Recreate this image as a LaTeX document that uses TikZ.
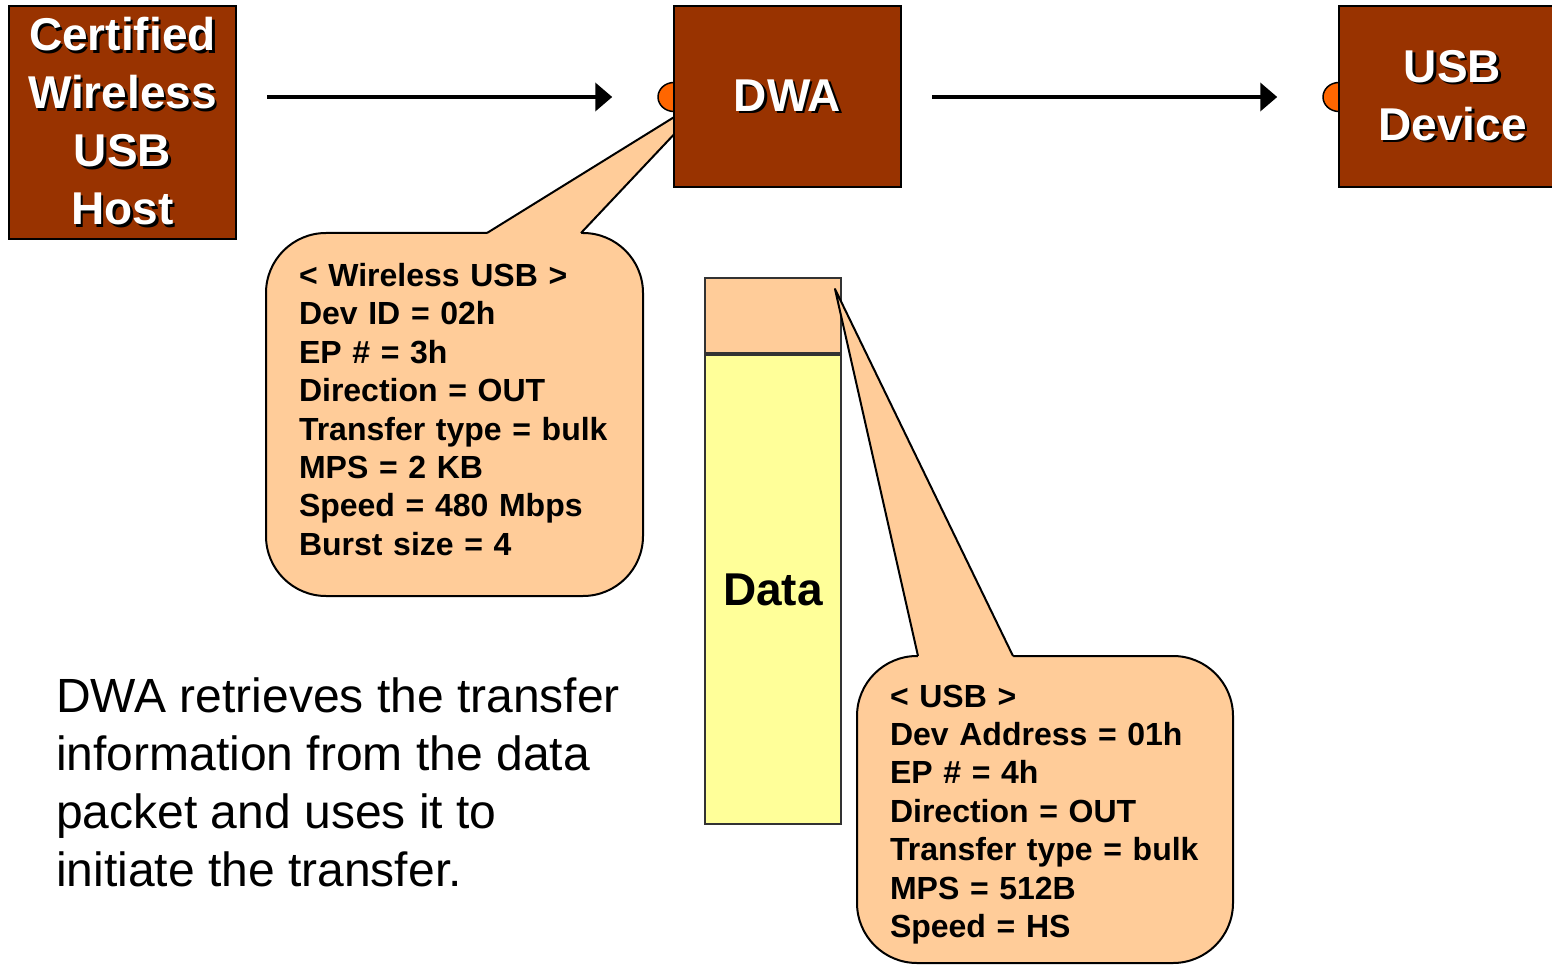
\documentclass[tikz,border=0pt]{standalone}
\usepackage{fontspec}
\setmainfont{Liberation Sans}
\usetikzlibrary{arrows.meta,shapes.geometric,calc}
\definecolor{brick}{HTML}{993300}
\definecolor{peach}{HTML}{FFCC99}
\definecolor{paleyellow}{HTML}{FFFF99}
\definecolor{portorange}{HTML}{FF6600}
\newcommand{\shadowed}[1]{\rlap{\kern2.5pt\raisebox{-2.5pt}{\color{black}#1}}#1}
\tikzset{
  unitbox/.style={draw=black, line width=2pt, fill=brick, text=white, minimum width=227pt,
    inner sep=0pt, align=center, font=\fontsize{46}{58}\selectfont\bfseries},
  portdot/.style={ellipse, draw=black, line width=1.5pt, fill=portorange, minimum width=32pt, minimum height=29pt, inner sep=0pt},
  flow/.style={line width=4pt, -{Triangle[length=17pt,width=28pt]}, shorten <=30pt, shorten >=45pt},
  callout/.style={draw=black, line width=2pt, fill=peach, rounded corners=60pt, inner xsep=33pt,
    align=left, font=\fontsize{32}{38.4}\selectfont\bfseries},
  datacell/.style={draw=black!80, line width=2pt, minimum width=136pt, inner sep=0pt},
}

\begin{document}
\begin{tikzpicture}[x=1pt, y=-1pt]
    \useasboundingbox (0,0) rectangle (1552,965);
    \clip (0,0) rectangle (1552,965);

    % Wireless USB callout
    \node[callout, text width=311pt, minimum height=363pt] (wusb) at (454.5,414.5) {%
        < Wireless USB >\\Dev ID = 02h\\EP \# = 3h\\Direction = OUT\\Transfer type = bulk\\MPS = 2 KB\\Speed = 480 Mbps\\Burst size = 4\par\kern10pt};
    \coordinate (wusbA) at (487,233);
    \coordinate (wusbB) at (581,233);
    \coordinate (wusbtip) at (713,93);
    \fill[peach] (wusbA) -- (wusbtip) -- (wusbB) -- ++(0,3) -- ($(wusbA)+(0,3)$) -- cycle;
    \draw[line width=2pt, line join=round] (wusbA) -- (wusbtip) -- (wusbB);

    % Ports
    \node[portdot] (dwaport) at (674,97) {};
    \node[portdot] (devport) at (1339,97) {};

    % Units
    \node[unitbox, minimum height=233pt] (host) at (122.5,122.5)
        {\shadowed{Certified}\\\shadowed{Wireless}\\\shadowed{USB}\\\shadowed{Host}};
    \node[unitbox, minimum height=181pt] (dwa) at (787.5,96.5) {\shadowed{DWA}};
    \node[unitbox, minimum height=181pt] (dev) at (1452.5,96.5) {\shadowed{USB}\\\shadowed{Device}};

    \draw[flow] (host.east |- dwaport.west) -- (dwaport.west);
    \draw[flow] (dwa.east |- devport.west) -- (devport.west);

    % Data packet
    \node[datacell, fill=peach, minimum height=75pt] (datahead) at (773,315.5) {};
    \node[datacell, fill=paleyellow, minimum height=469pt, anchor=north,
        font=\fontsize{46}{54}\selectfont\bfseries] (databody) at (datahead.south) {Data};

    % USB callout
    \node[callout, text width=310pt, minimum height=307pt] (usb) at (1045,809.5) {%
        < USB >\\Dev Address = 01h\\EP \# = 4h\\Direction = OUT\\Transfer type = bulk\\MPS = 512B\\Speed = HS\par\kern-10pt};
    \coordinate (usbA) at (918,656);
    \coordinate (usbB) at (1013,656);
    \coordinate (usbtip) at (835,289);
    \fill[peach] (usbA) -- (usbtip) -- (usbB) -- ++(0,3) -- ($(usbA)+(0,3)$) -- cycle;
    \draw[line width=2pt, line join=round] (usbA) -- (usbtip) -- (usbB);

    \node[anchor=north west, align=left, inner sep=0pt, font=\fontsize{48}{58}\selectfont] (note) at (56,678)
        {DWA retrieves the transfer\\information from the data\\packet and uses it to\\initiate the transfer.};
\end{tikzpicture}
\end{document}
